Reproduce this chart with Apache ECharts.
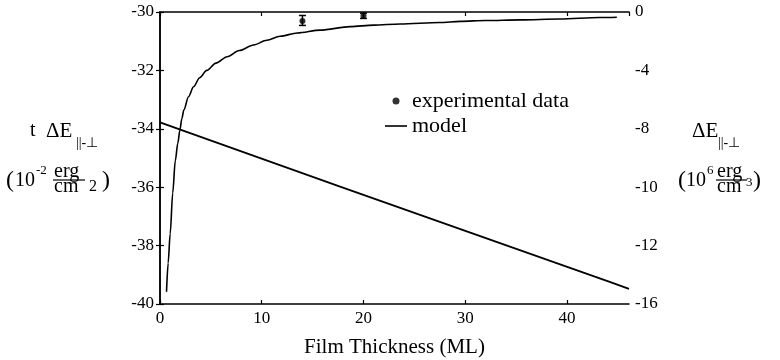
<!DOCTYPE html>
<html>
<head>
<meta charset="utf-8">
<script src="https://cdn.jsdelivr.net/npm/echarts@6/dist/echarts.min.js"></script>
<style>
html,body{margin:0;padding:0;background:#fff;}
#chart{width:780px;height:360px;}
</style>
</head>
<body>
<div id="chart"></div>
<script>
// ---- data ----
const curveX = [0.64, 0.8, 1.0, 1.25, 1.5, 1.75, 1.95, 2.15, 2.35, 2.8, 3.3, 3.9, 4.6, 5.5, 6.6, 7.8, 9.2, 10.5, 11.8, 13.5, 15.75, 18.7, 21.0, 23.6, 27.5, 29.5, 32.0, 35.4, 39.3, 43.2, 44.9];
const curveY = [-39.58, -38.6, -37.6, -36.2, -35.1, -34.5, -34.05, -33.65, -33.35, -32.9, -32.56, -32.25, -32.0, -31.75, -31.53, -31.32, -31.13, -30.97, -30.83, -30.72, -30.62, -30.5, -30.45, -30.41, -30.36, -30.32, -30.29, -30.27, -30.24, -30.19, -30.18];
const lineX = [0, 17.7, 44.2, 46.1];
const lineY = [-33.78, -35.98, -39.24, -39.48];
const expX = [14, 20];
const expY = [-30.31, -30.13];
const expLo = [-30.46, -30.22];
const expHi = [-30.12, -30.04];
const xTicks = [0, 10, 20, 30, 40];
const leftTickLabels = ['-40', '-38', '-36', '-34', '-32', '-30'];
const rightTickLabels = ['-16', '-12', '-10', '-8', '-4', '0'];

const FONT = '"Liberation Serif", "Times New Roman", serif';
const chart = echarts.init(document.getElementById('chart'), null, {renderer: 'canvas'});

function txt(text, x, y, size, align) {
  return {type: 'text', x: x, y: y, silent: true,
    style: {text: text, fill: '#000', font: size + 'px ' + FONT, align: align || 'left', verticalAlign: 'middle'}};
}
function hline(x1, x2, y) {
  return {type: 'line', silent: true, shape: {x1: x1, y1: y, x2: x2, y2: y}, style: {stroke: '#000', lineWidth: 1.2}};
}

const graphics = [
  // left axis title
  txt('t', 30, 131, 20),
  txt('\u0394E', 46, 131, 21),
  txt('||-\u22A5', 76, 143, 14),
  txt('(', 6, 181, 24),
  txt('10', 15, 181, 20),
  txt('-2', 36, 171, 13),
  txt('erg', 54, 172, 20),
  hline(53, 85, 180),
  txt('cm', 54, 187, 20),
  txt('2', 89, 187, 16),
  txt(')', 102, 181, 24),
  // right axis title
  txt('\u0394E', 692, 131, 21),
  txt('||-\u22A5', 718, 143, 14),
  txt('(', 678, 181, 24),
  txt('10', 686, 181, 20),
  txt('6', 707, 171, 13),
  txt('erg', 717, 172, 20),
  hline(716, 747, 180),
  txt('cm', 717, 187, 20),
  txt('3', 746, 183, 13),
  txt(')', 753, 181, 24)
];

const option = {
  animation: false,
  backgroundColor: '#fff',
  textStyle: {fontFamily: FONT, color: '#000'},
  grid: {left: 160, right: 151, top: 12, bottom: 56, containLabel: false, outerBoundsMode: 'none'},
  legend: {
    orient: 'vertical', left: 380, top: 85, itemGap: 3,
    itemWidth: 22, itemHeight: 7,
    textStyle: {fontFamily: FONT, fontSize: 22, color: '#000'},
    data: [
      {name: 'experimental data', icon: 'circle', itemStyle: {color: '#000'}},
      {name: 'model', icon: 'path://M0 0H22V1.6H0Z', itemStyle: {color: '#000'}}
    ]
  },
  xAxis: [{
    type: 'value', min: 0, max: 46.1, interval: 10, position: 'bottom',
    name: 'Film Thickness (ML)', nameLocation: 'middle', nameGap: 33,
    nameTextStyle: {fontFamily: FONT, fontSize: 21, color: '#000'},
    axisLine: {show: true, lineStyle: {color: '#000', width: 1.5}},
    axisTick: {show: true, inside: true, length: 4, lineStyle: {color: '#000', width: 1.2}},
    axisLabel: {show: true, margin: 6, fontFamily: FONT, fontSize: 17, color: '#000', showMaxLabel: false,
      formatter: function (v) { return xTicks.indexOf(v) >= 0 ? String(v) : ''; }},
    splitLine: {show: false}
  }, {
    type: 'value', min: 0, max: 46.1, interval: 10, position: 'top',
    axisLine: {show: true, lineStyle: {color: '#000', width: 1.5}},
    axisTick: {show: true, inside: true, length: 4, lineStyle: {color: '#000', width: 1.2}},
    axisLabel: {show: false}, splitLine: {show: false}
  }],
  yAxis: [{
    type: 'value', min: -40, max: -30, interval: 2, position: 'left',
    axisLine: {show: true, lineStyle: {color: '#000', width: 1.5}},
    axisTick: {show: true, inside: true, length: 4, lineStyle: {color: '#000', width: 1.2}},
    axisLabel: {margin: 6, fontFamily: FONT, fontSize: 17, color: '#000',
      formatter: function (v, i) { return leftTickLabels[i]; }},
    splitLine: {show: false}
  }, {
    type: 'value', min: -40, max: -30, interval: 2, position: 'right',
    axisLine: {show: true, lineStyle: {color: '#000', width: 1.5}},
    axisTick: {show: true, inside: true, length: 4, lineStyle: {color: '#000', width: 1.2}},
    axisLabel: {margin: 6, fontFamily: FONT, fontSize: 17, color: '#000',
      formatter: function (v, i) { return rightTickLabels[i]; }},
    splitLine: {show: false}
  }],
  series: [
    {
      name: 'model', type: 'line', xAxisIndex: 0, yAxisIndex: 0,
      data: curveX.map((x, i) => [x, curveY[i]]),
      showSymbol: false, symbol: 'none', smooth: 0.3, smoothMonotone: 'x',
      lineStyle: {color: '#000', width: 1.6}, itemStyle: {color: '#000'}
    },
    {
      name: 'linear', type: 'line', xAxisIndex: 0, yAxisIndex: 0,
      data: lineX.map((x, i) => [x, lineY[i]]),
      showSymbol: false, symbol: 'none',
      lineStyle: {color: '#000', width: 1.8}
    },
    {
      name: 'experimental data', type: 'scatter', xAxisIndex: 0, yAxisIndex: 0,
      data: expX.map((x, i) => [x, expY[i]]),
      symbol: 'circle', symbolSize: 6, itemStyle: {color: '#000'}
    },
    {
      name: 'errorbars', type: 'custom', xAxisIndex: 0, yAxisIndex: 0,
      data: expX.map((x, i) => [x, expLo[i], expHi[i]]),
      renderItem: function (params, api) {
        const lo = api.coord([api.value(0), api.value(1)]);
        const hi = api.coord([api.value(0), api.value(2)]);
        const w = 3.5;
        const st = {stroke: '#000', lineWidth: 1.5};
        return {type: 'group', children: [
          {type: 'line', shape: {x1: lo[0], y1: lo[1], x2: hi[0], y2: hi[1]}, style: st},
          {type: 'line', shape: {x1: lo[0] - w, y1: lo[1], x2: lo[0] + w, y2: lo[1]}, style: st},
          {type: 'line', shape: {x1: hi[0] - w, y1: hi[1], x2: hi[0] + w, y2: hi[1]}, style: st}
        ]};
      },
      z: 3
    }
  ],
  graphic: graphics
};
chart.setOption(option);
</script>
</body>
</html>
